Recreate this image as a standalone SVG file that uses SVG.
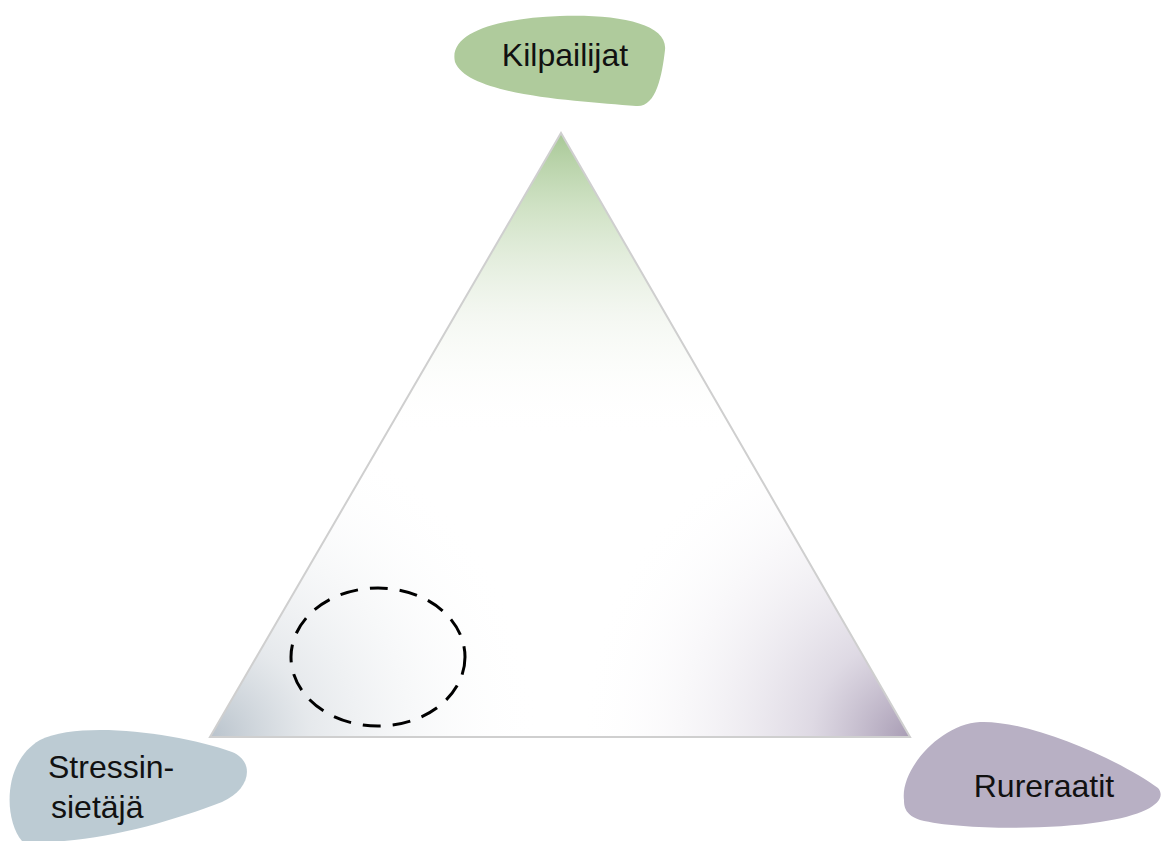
<svg xmlns="http://www.w3.org/2000/svg" width="1164" height="841" viewBox="0 0 1164 841">
<style>
.lbl{font-family:"Liberation Sans",Arial,sans-serif;font-size:32px;fill:#111}
</style>
<defs>
<linearGradient id="gTop" x1="0" y1="133" x2="0" y2="737" gradientUnits="userSpaceOnUse">
<stop offset="0" stop-color="#a8c896" stop-opacity="1"/>
<stop offset="0.12" stop-color="#c3dab5" stop-opacity="0.8"/>
<stop offset="0.3" stop-color="#e8efe3" stop-opacity="0.5"/>
<stop offset="0.5" stop-color="#ffffff" stop-opacity="0"/>
</linearGradient>
<radialGradient id="gLeft" cx="210" cy="737" r="330" gradientUnits="userSpaceOnUse">
<stop offset="0" stop-color="#b9c3cc"/>
<stop offset="0.3" stop-color="#dfe3e7" stop-opacity="0.8"/>
<stop offset="1" stop-color="#ffffff" stop-opacity="0"/>
</radialGradient>
<radialGradient id="gRight" cx="910" cy="737" r="330" gradientUnits="userSpaceOnUse">
<stop offset="0" stop-color="#a89cb4"/>
<stop offset="0.3" stop-color="#d6d0dd" stop-opacity="0.8"/>
<stop offset="1" stop-color="#ffffff" stop-opacity="0"/>
</radialGradient>
</defs>
<rect width="1164" height="841" fill="#fff"/>
<g id="triangle">
<polygon points="561,133 910,737 210,737" fill="#ffffff"/>
<polygon points="561,133 910,737 210,737" fill="url(#gLeft)"/>
<polygon points="561,133 910,737 210,737" fill="url(#gRight)"/>
<polygon points="561,133 910,737 210,737" fill="url(#gTop)" stroke="#cfcfcf" stroke-width="2"/>
</g>
<g id="zone">
<ellipse cx="378" cy="657" rx="87" ry="69" fill="none" stroke="#000" stroke-width="3" stroke-dasharray="18 12"/>
</g>
<g id="kilpailijat">
<path d="M455,62 C448,32 500,18 560,16 C620,14 668,24 665,50 C662,76 656,108 636,106 C580,101 468,96 455,62 Z" fill="#afcb9c"/>
<text class="lbl" x="565" y="66" text-anchor="middle">Kilpailijat</text>
</g>
<g id="stressinsietaja">
<path d="M22,841 C4,820 2,762 40,740 C80,720 180,733 232,752 C256,762 250,790 222,802 C170,822 100,842 40,842 Z" fill="#bccbd3"/>
<text class="lbl" x="48" y="778">Stressin-</text>
<text class="lbl" x="51" y="818">sietäjä</text>
</g>
<g id="rureraatit">
<path d="M904,800 C900,770 940,724 980,722 C1030,720 1120,760 1158,788 C1168,800 1150,815 1100,822 C1050,830 960,830 920,820 C906,815 904,808 904,800 Z" fill="#b8b0c4"/>
<text class="lbl" x="1044" y="797" text-anchor="middle">Rureraatit</text>
</g>
</svg>
